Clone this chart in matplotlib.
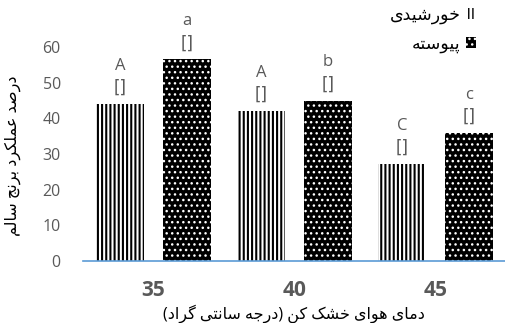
import matplotlib
matplotlib.use("Agg")
import matplotlib.pyplot as plt
import numpy as np

# ---------------- data ----------------
categories = ["35", "40", "45"]
khorshidi = [44.0, 42.0, 27.2]
peyvasteh = [56.5, 45.0, 35.9]
letters_khorshidi = ["A", "A", "C"]
letters_peyvasteh = ["a", "b", "c"]
series_names = ["خورشیدی", "پیوسته"]
y_label = "درصد عملکرد برنج سالم"
x_label = "دمای هوای خشک کن (درجه سانتی گراد)"
y_ticks = [0, 10, 20, 30, 40, 50, 60]

# ---------------- simple Arabic/Persian shaping ----------------
FORMS = {
    "ا": ("\uFE8D", "\uFE8E"),
    "ب": ("\uFE8F", "\uFE90", "\uFE91", "\uFE92"),
    "پ": ("\uFB56", "\uFB57", "\uFB58", "\uFB59"),
    "ت": ("\uFE95", "\uFE96", "\uFE97", "\uFE98"),
    "ج": ("\uFE9D", "\uFE9E", "\uFE9F", "\uFEA0"),
    "خ": ("\uFEA5", "\uFEA6", "\uFEA7", "\uFEA8"),
    "د": ("\uFEA9", "\uFEAA"),
    "ر": ("\uFEAD", "\uFEAE"),
    "س": ("\uFEB1", "\uFEB2", "\uFEB3", "\uFEB4"),
    "ش": ("\uFEB5", "\uFEB6", "\uFEB7", "\uFEB8"),
    "ص": ("\uFEB9", "\uFEBA", "\uFEBB", "\uFEBC"),
    "ع": ("\uFEC9", "\uFECA", "\uFECB", "\uFECC"),
    "ل": ("\uFEDD", "\uFEDE", "\uFEDF", "\uFEE0"),
    "م": ("\uFEE1", "\uFEE2", "\uFEE3", "\uFEE4"),
    "ن": ("\uFEE5", "\uFEE6", "\uFEE7", "\uFEE8"),
    "ه": ("\uFEE9", "\uFEEA", "\uFEEB", "\uFEEC"),
    "و": ("\uFEED", "\uFEEE"),
    "ی": ("\uFBFC", "\uFBFD", "\uFBFE", "\uFBFF"),
    "ک": ("\uFB8E", "\uFB8F", "\uFB90", "\uFB91"),
    "گ": ("\uFB92", "\uFB93", "\uFB94", "\uFB95"),
}


def shape(text):
    out = []
    n = len(text)
    for i, c in enumerate(text):
        if c not in FORMS:
            out.append(c)
            continue
        f = FORMS[c]
        prev = text[i - 1] if i > 0 else None
        nxt = text[i + 1] if i < n - 1 else None
        jp = prev in FORMS and len(FORMS[prev]) == 4
        jn = nxt in FORMS and len(f) == 4
        if jp and jn:
            out.append(f[3])
        elif jp:
            out.append(f[1])
        elif jn:
            out.append(f[2])
        else:
            out.append(f[0])
    vis = "".join(out)[::-1]
    return vis.translate(str.maketrans("()", ")("))


# ---------------- style ----------------
plt.rcParams["font.family"] = ["Open Sans", "DejaVu Sans"]
GRAY = "#595959"
AXIS_BLUE = "#5B9BD5"

fig = plt.figure(figsize=(5.06, 3.23), dpi=100)
ax = fig.add_axes([83 / 506, 1 - 261 / 323, (506 - 83) / 506, (261 - 47) / 323])

x = np.arange(len(categories))
w = 0.34
off = 0.2375

with plt.rc_context({"hatch.linewidth": 1.5}):
    b1 = ax.bar(x - off, khorshidi, w, facecolor="white", edgecolor="black",
                hatch="||||", linewidth=0, label=shape(series_names[0]))
with plt.rc_context({"hatch.linewidth": 1.0}):
    b2 = ax.bar(x + off, peyvasteh, w, facecolor="black", edgecolor="white",
                hatch="...", linewidth=0, label=shape(series_names[1]))

for bars, vals, lets in ((b1, khorshidi, letters_khorshidi), (b2, peyvasteh, letters_peyvasteh)):
    for rect, v, l in zip(bars, vals, lets):
        cx = rect.get_x() + rect.get_width() / 2
        ax.annotate("[]", (cx, v), xytext=(0, 16), textcoords="offset pixels",
                    ha="center", va="center", fontsize=12, color=GRAY,
                    family="DejaVu Sans")
        ax.annotate(l, (cx, v), xytext=(0, 38), textcoords="offset pixels",
                    ha="center", va="center", fontsize=12, color=GRAY)

ax.set_xlim(-0.5, 2.5)
ax.set_ylim(0, 60)
ax.set_yticks(y_ticks)
ax.set_xticks(x)
ax.set_xticklabels(categories, fontsize=15, fontweight="bold", color=GRAY)
ax.tick_params(axis="y", length=0, pad=16, labelsize=11.5, labelcolor=GRAY)
ax.tick_params(axis="x", length=0, pad=14)
for s in ("top", "right", "left"):
    ax.spines[s].set_visible(False)
ax.spines["bottom"].set_color(AXIS_BLUE)
ax.spines["bottom"].set_linewidth(1.2)

fig.text(294 / 506, 1 - 314 / 323, shape(x_label), ha="center", va="center",
         fontsize=11.5, color="black")
fig.text(13 / 506, 1 - 156 / 323, shape(y_label), ha="center", va="center",
         rotation=90, fontsize=11.5, color="black")

leg = ax.legend(loc="upper right", bbox_to_anchor=(492 / 506, 1.025),
                bbox_transform=fig.transFigure, frameon=False, markerfirst=False,
                handlelength=0.6, handleheight=0.6, handletextpad=0.3,
                labelspacing=0.75, fontsize=12.5)

fig.savefig("out.png", dpi=100)
